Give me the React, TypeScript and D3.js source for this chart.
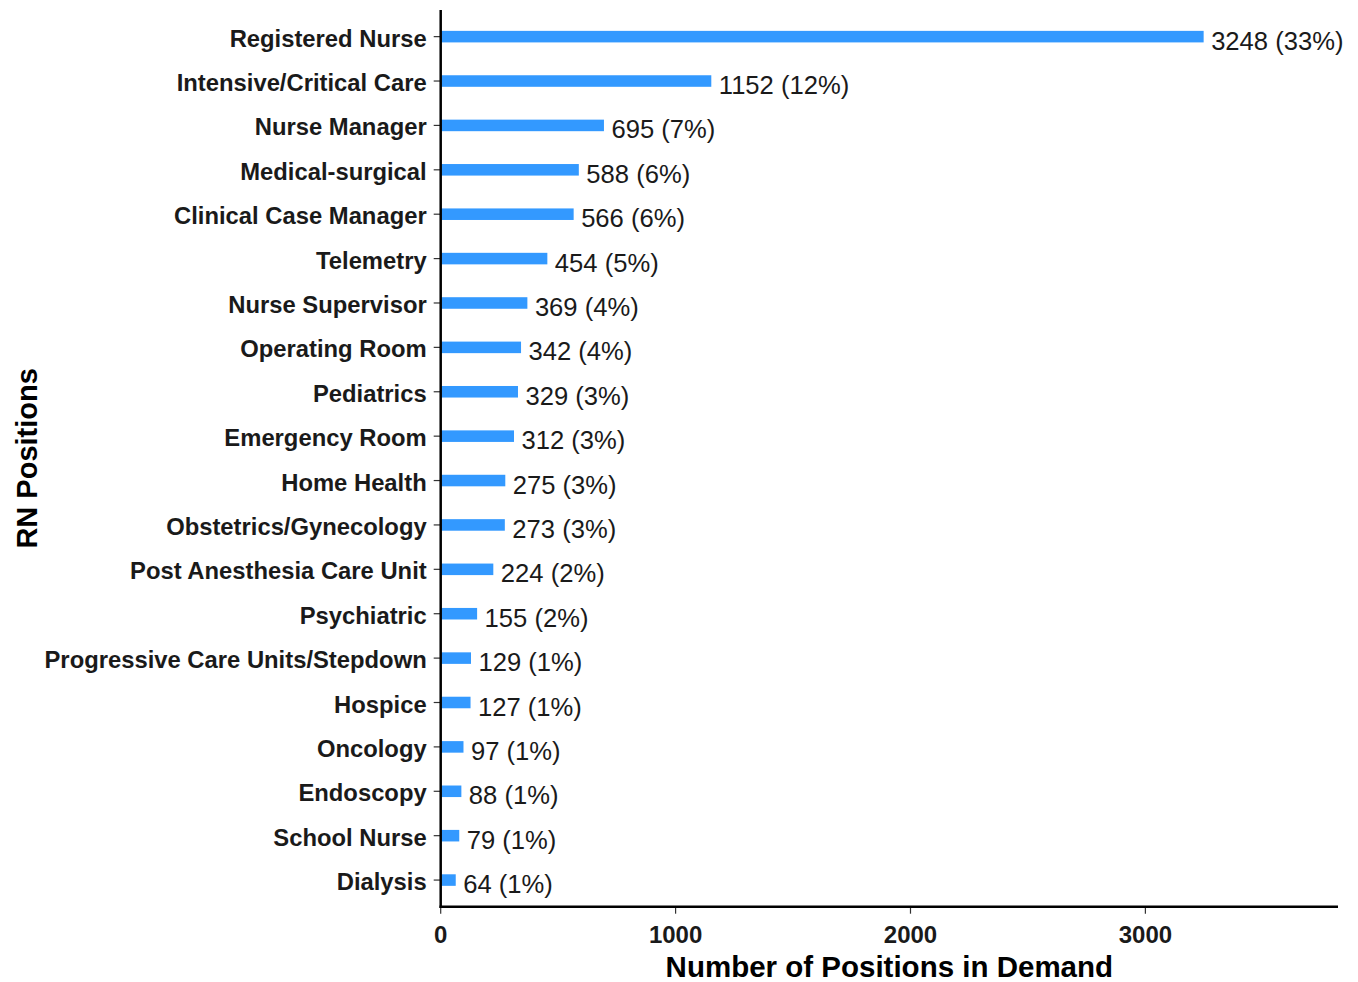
import React from "react";
import * as d3 from "d3";

const categories = [
  "Registered Nurse",
  "Intensive/Critical Care",
  "Nurse Manager",
  "Medical-surgical",
  "Clinical Case Manager",
  "Telemetry",
  "Nurse Supervisor",
  "Operating Room",
  "Pediatrics",
  "Emergency Room",
  "Home Health",
  "Obstetrics/Gynecology",
  "Post Anesthesia Care Unit",
  "Psychiatric",
  "Progressive Care Units/Stepdown",
  "Hospice",
  "Oncology",
  "Endoscopy",
  "School Nurse",
  "Dialysis",
];
const values = [3248, 1152, 695, 588, 566, 454, 369, 342, 329, 312, 275, 273, 224, 155, 129, 127, 97, 88, 79, 64];
const percents = [33, 12, 7, 6, 6, 5, 4, 4, 3, 3, 3, 3, 2, 2, 1, 1, 1, 1, 1, 1];
const xTicks = [0, 1000, 2000, 3000];
const xDomainMax = 3820;

const W = 1358;
const H = 982;
const left = 440.7;
const right = 1338;
const top = 10;
const bottom = 906.7;

export default function App() {
  const x = d3.scaleLinear().domain([0, xDomainMax]).range([left, right]);
  const y = d3.scalePoint<string>().domain(categories).range([top, bottom]).padding(0.6);
  const step = y.step();
  const barH = step * 0.26;
  const font = "Arial, 'Liberation Sans', sans-serif";

  return (
    <svg width={W} height={H} style={{ position: "absolute", left: 0, top: 0, background: "#fff" }} fontFamily={font}>
      {categories.map((c, i) => {
        const cy = y(c)!;
        return (
          <g key={c}>
            <rect x={x(0)} y={cy - barH / 2} width={x(values[i]) - x(0)} height={barH} fill="#3399ff" />
            <text x={x(values[i]) + 7.5} y={cy + 13} fontSize={25.6} fill="#1a1a1a">
              {`${values[i]} (${percents[i]}%)`}
            </text>
            <line x1={left - 7} x2={left} y1={cy} y2={cy} stroke="#333" strokeWidth={1.2} />
            <text x={left - 14} y={cy + 1.5} fontSize={23.8} fontWeight="bold" textAnchor="end" dominantBaseline="central" fill="#1a1a1a">
              {c}
            </text>
          </g>
        );
      })}
      {xTicks.map((t) => (
        <g key={t}>
          <line x1={x(t)} x2={x(t)} y1={bottom} y2={bottom + 7} stroke="#333" strokeWidth={1.2} />
          <text x={x(t)} y={943} fontSize={24} fontWeight="bold" textAnchor="middle" fill="#1a1a1a">
            {t}
          </text>
        </g>
      ))}
      <line x1={left} x2={left} y1={top} y2={bottom + 1.2} stroke="#000" strokeWidth={2.5} />
      <line x1={left - 1.2} x2={right} y1={bottom} y2={bottom} stroke="#000" strokeWidth={2.5} />
      <text x={(left + right) / 2} y={977} fontSize={29.5} fontWeight="bold" textAnchor="middle" fill="#000">
        Number of Positions in Demand
      </text>
      <text
        transform={`translate(37, ${(top + bottom) / 2}) rotate(-90)`}
        fontSize={29}
        fontWeight="bold"
        textAnchor="middle"
        fill="#000"
      >
        RN Positions
      </text>
    </svg>
  );
}
